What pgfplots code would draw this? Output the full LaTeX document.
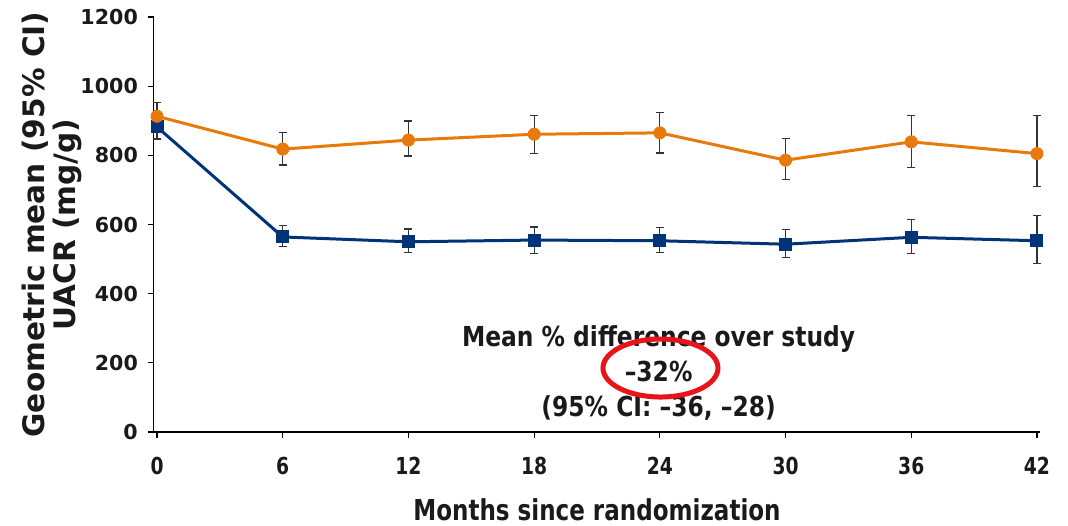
\documentclass[border=0pt]{standalone}
\usepackage{fontspec}
\setmainfont{DejaVu Sans}
\newfontfamily\condfont[FakeStretch=0.80]{DejaVu Sans}
\newfontfamily\annfont[FakeStretch=0.85]{DejaVu Sans}
\usepackage{pgfplots}
\usepackage{pgfplotstable}
\pgfplotsset{compat=1.18}
\definecolor{orangeS}{RGB}{232,122,12}
\definecolor{blueS}{RGB}{0,51,119}
\definecolor{redE}{RGB}{232,20,28}
\definecolor{txt}{RGB}{26,26,26}

\pgfplotstableread{
x y ep em
0 913 40 40
6 818 47 46
12 844 55 46
18 861 55 56
24 865 59 58
30 786 62 56
36 839 76 75
42 805 110 94
}\orangedata

\pgfplotstableread{
x y ep em
0 882 35 35
6 564 34 28
12 550 37 32
18 555 38 38
24 553 39 35
30 543 43 38
36 563 52 46
42 553 72 65
}\bluedata

\begin{document}
\begin{tikzpicture}
\begin{axis}[
  scale only axis,
  width=443.1pt, height=207.5pt,
  xmin=-0.15, xmax=42.15, ymin=0, ymax=1200,
  axis lines=left,
  axis line style={-, line width=0.6pt, black},
  xtick={0,6,...,42}, ytick={0,200,...,1200},
  tick align=outside, major tick length=3pt,
  tick style={black, line width=0.6pt},
  /pgf/number format/assume math mode=true,
  /pgf/number format/1000 sep={},
  yticklabel style={font=\bfseries\fontsize{10.3}{12}\selectfont, text=txt, xshift=-1.5pt},
  xticklabel style={font=\condfont\bfseries\fontsize{11.7}{14}\selectfont, text=txt, yshift=-6pt},
  clip=false,
]
\addplot[blueS, line width=1.5pt, mark=square*, mark size=3pt,
  mark options={fill=blueS, draw=blueS, line width=0.5pt},
  error bars/.cd, y dir=both, y explicit,
  error bar style={black!80, line width=0.6pt},
  error mark options={rotate=90, mark size=2pt, black!80, line width=0.6pt}]
  table[x=x, y=y, y error plus=ep, y error minus=em] {\bluedata};
\addplot[orangeS, line width=1.5pt, mark=*, mark size=3pt,
  mark options={fill=orangeS, draw=orangeS, line width=0.5pt},
  error bars/.cd, y dir=both, y explicit,
  error bar style={black!80, line width=0.6pt},
  error mark options={rotate=90, mark size=2pt, black!80, line width=0.6pt}]
  table[x=x, y=y, y error plus=ep, y error minus=em] {\orangedata};

\node[anchor=base, text=txt, font=\annfont\bfseries\fontsize{13.75}{16}\selectfont] at (axis cs:23.94,245.8) {Mean \% difference over study};
\node[anchor=base, text=txt, font=\annfont\bfseries\fontsize{13.75}{16}\selectfont] at (axis cs:23.94,144.6) {–32\%};
\node[anchor=base, text=txt, font=\annfont\bfseries\fontsize{13.75}{16}\selectfont] at (axis cs:23.94,43.4) {(95\% CI: –36, –28)};
\draw[redE, line width=2.5pt] (axis cs:24.03,185) ellipse [x radius=28.75pt, y radius=14.5pt];

\node[anchor=base, inner sep=0pt, text=txt, font=\condfont\bfseries\fontsize{14.4}{16}\selectfont] at ([yshift=-44pt]rel axis cs:0.5,0) {Months since randomization};
\node[rotate=90, anchor=center, align=center, inner sep=0pt, text=txt, font=\bfseries\fontsize{14.8}{15.5}\selectfont] at ([xshift=-51pt]rel axis cs:0,0.5) {Geometric mean (95\% CI)\\UACR (mg/g)};
\end{axis}
\pgfresetboundingbox
\path ([xshift=-76.95pt,yshift=-46.5pt]current axis.south west) rectangle ([xshift=13.95pt,yshift=8.5pt]current axis.north east);
\end{tikzpicture}
\end{document}
